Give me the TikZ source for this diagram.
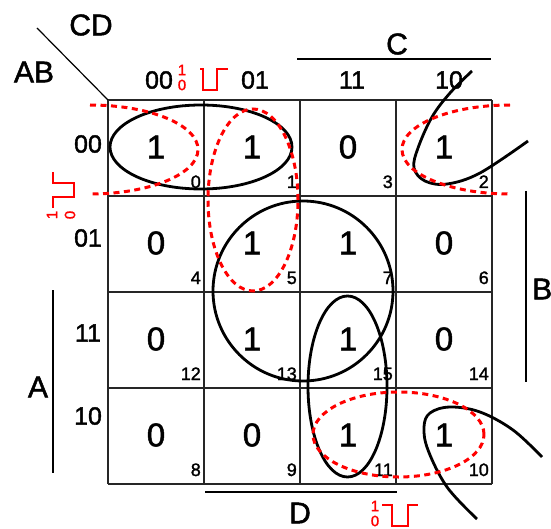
\documentclass[tikz,border=0pt]{standalone}
\usepackage{fontspec}
\setmainfont{Liberation Sans}[FakeBold=1.5]
\begin{document}
\begin{tikzpicture}[x=1pt,y=-1pt,
  gridline/.style={line width=1.6pt, draw=black!85},
  bloop/.style={line width=2.8pt, draw=black},
  rloop/.style={line width=3pt, draw=red, dash pattern=on 6pt off 4.5pt},
  val/.style={font=\fontsize{33}{33}\selectfont, inner sep=0pt},
  idx/.style={font=\fontsize{18}{18}\selectfont, inner sep=0pt, anchor=base east},
  lab/.style={font=\fontsize{25}{25}\selectfont, inner sep=0pt},
  biglab/.style={font=\fontsize{30}{30}\selectfont, inner sep=0pt},
  barline/.style={line width=1.8pt},
  pulse/.style={draw=red, line width=1.8pt},
  plab/.style={text=red, font=\fontsize{15}{15}\selectfont, inner sep=0pt}]
\useasboundingbox (0,0) rectangle (551,529);

% grid
\foreach \i in {0,...,4} {
  \draw[gridline] (108+96*\i,100) -- (108+96*\i,484);
  \draw[gridline] (108,100+96*\i) -- (492,100+96*\i);
}

% cell values and indices
\foreach \c/\r/\v/\n in {0/0/1/0, 1/0/1/1, 2/0/0/3, 3/0/1/2,
                         0/1/0/4, 1/1/1/5, 2/1/1/7, 3/1/0/6,
                         0/2/0/12, 1/2/1/13, 2/2/1/15, 3/2/0/14,
                         0/3/0/8, 1/3/0/9, 2/3/1/11, 3/3/1/10} {
  \node[val] (v\n) at (156+96*\c,147+96*\r) {\v};
  \node[idx] (i\n) at (201+96*\c,188+96*\r) {\n};
}

% corner labels
\coordinate (d1) at (37,28);
\coordinate (d2) at (108,100);
\draw[line width=1.2pt] (d1) -- (d2);
\node[biglab] (cd) at (91,25) {CD};
\node[biglab] (ab) at (34,72) {AB};

% column labels
\node[lab] (c00) at (159,80) {00};
\node[lab] (c01) at (255,80) {01};
\node[lab] (c11) at (352,80) {11};
\node[lab] (c10) at (449,80) {10};
% row labels
\node[lab] (r00) at (88,144) {00};
\node[lab] (r01) at (88,238) {01};
\node[lab] (r11) at (88,333) {11};
\node[lab] (r10) at (88,416) {10};

% variable bars
\coordinate (cb1) at (297,59); \coordinate (cb2) at (491,59);
\draw[barline] (cb1) -- (cb2);
\node[biglab] (lc) at (397,44) {C};
\coordinate (bb1) at (526,191); \coordinate (bb2) at (526,382);
\draw[barline] (bb1) -- (bb2);
\node[biglab, anchor=west] (lb) at (532,289) {B};
\coordinate (ab1) at (53,290); \coordinate (ab2) at (53,473);
\draw[barline] (ab1) -- (ab2);
\node[biglab] (la) at (38,387) {A};
\coordinate (db1) at (205,492); \coordinate (db2) at (397,492);
\draw[barline] (db1) -- (db2);
\node[biglab] (ld) at (300,513) {D};

% pulses
\draw[pulse] (200,69) -- (203,69) -- (203,90) -- (217,90) -- (217,69) -- (228,69);
\node[plab] (p1a) at (182,70) {1};
\node[plab] (p1b) at (182,85) {0};
\draw[pulse] (53,172) -- (53,183) -- (74,183) -- (74,197) -- (53,197) -- (53,208);
\node[plab, rotate=90] (p2a) at (52,215) {1};
\node[plab, rotate=90] (p2b) at (70,215) {0};
\draw[pulse] (382,505) -- (392,505) -- (392,526) -- (408,526) -- (408,505) -- (418,505);
\node[plab] (p3a) at (375,506) {1};
\node[plab] (p3b) at (375,521) {0};

% black loops
\draw[bloop] (201,147) ellipse [x radius=91pt, y radius=42pt];
\draw[bloop] (303,291) circle [radius=90pt];
\draw[bloop] (347.5,386.5) ellipse [x radius=39.5pt, y radius=90.5pt];
\draw[bloop] plot[smooth, tension=0.6] coordinates {(472,71) (450,93) (432,117) (418,148) (414,168) (425,181) (447,184) (480,173) (528,141)};
\draw[bloop] plot[smooth, tension=0.6] coordinates {(542,457) (513,430) (480,412) (450,407) (430,413) (424,427) (428,450) (447,487) (477,519)};

% red dashed loops
\draw[rloop] (90,105) .. controls (149.6,105) and (198,124.9) .. (198,149.5)
             .. controls (198,174.1) and (149.6,194) .. (90,194);
\draw[rloop] (510,105) .. controls (450.4,105) and (402,124.9) .. (402,149.5)
             .. controls (402,174.1) and (450.4,194) .. (510,194);
\draw[rloop] (253,200) ellipse [x radius=45pt, y radius=91pt];
\draw[rloop] (398.5,434.5) ellipse [x radius=85.5pt, y radius=42.5pt];
\end{tikzpicture}
\end{document}
